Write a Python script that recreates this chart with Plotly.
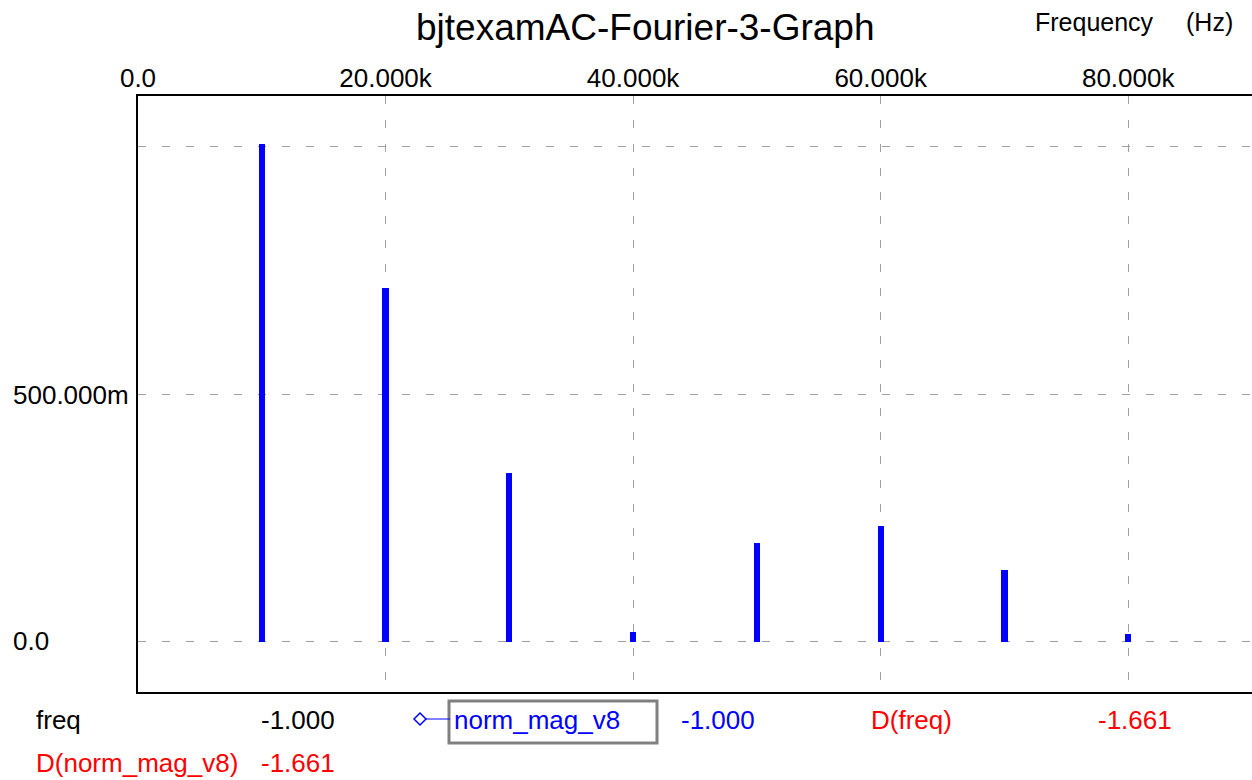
import plotly.graph_objects as go

# Fourier spectrum of node v8, normalised to the fundamental
freq_hz = [10000, 20000, 30000, 40000, 50000, 60000, 70000, 80000]
norm_mag_v8 = [1.005, 0.714, 0.341, 0.0197, 0.200, 0.234, 0.145, 0.016]

x_tick_vals = [0, 20000, 40000, 60000, 80000]
x_tick_text = ["0.0", "20.000k", "40.000k", "60.000k", "80.000k"]
y_tick_vals = [0.0, 0.5, 1.0]
y_tick_text = ["0.0", "500.000m"]

W, H = 1252, 780
L, R, T, B = 138, 0, 96, 88
PW, PH = W - L - R, H - T - B

FONT = "Liberation Sans, Arial, sans-serif"
GRID = "#a0a0a0"


def px(x):
    return (x - L) / PW


def py(y):
    return (H - B - y) / PH


fig = go.Figure()
fig.add_trace(go.Bar(
    x=freq_hz, y=norm_mag_v8, width=500,
    marker=dict(color="#0000ff", line=dict(width=0)),
    showlegend=False, hoverinfo="x+y",
))

fig.update_layout(
    width=W, height=H,
    margin=dict(l=L, r=R, t=T, b=B, pad=0),
    paper_bgcolor="white", plot_bgcolor="white",
    font=dict(family=FONT, size=26, color="black"),
    bargap=0,
    xaxis=dict(
        range=[0, 90000], side="top",
        tickvals=x_tick_vals, ticktext=x_tick_text,
        showgrid=True, gridcolor=GRID, griddash="8px,16px", gridwidth=1,
        showline=True, linecolor="black", linewidth=2, mirror=True,
        zeroline=False, ticks="", tickfont=dict(size=26),
        ticklabelstandoff=-3,
    ),
    yaxis=dict(
        range=[-0.1016, 1.1024],
        tickvals=y_tick_vals, showticklabels=False,
        showgrid=True, gridcolor=GRID, griddash="8px,16px", gridwidth=1,
        showline=True, linecolor="black", linewidth=2, mirror=False,
        zeroline=False, ticks="",
    ),
)

ann = []


def text(x, y, s, color="black", size=26, anchor="left"):
    ann.append(dict(x=px(x), y=py(y), xref="paper", yref="paper", text=s,
                    showarrow=False, xanchor=anchor, yanchor="middle",
                    font=dict(family=FONT, size=size, color=color)))


# y tick labels, left aligned
text(11, 641, y_tick_text[0], size=26)
text(11, 395, y_tick_text[1], size=26)

# title and axis name
text(645, 27, "bjtexamAC-Fourier-3-Graph", size=37, anchor="center")
text(1033, 22, "Frequency", size=25)
text(1184, 22, "(Hz)", size=25)

# cursor read-out rows
text(34, 720, "freq")
text(259, 720, "-1.000")
text(452, 720, "norm_mag_v8", color="#0000ff")
text(679, 720, "-1.000", color="#0000ff")
text(869, 720, "D(freq)", color="#ff0000")
text(1096, 720, "-1.661", color="#ff0000")
text(34, 763, "D(norm_mag_v8)", color="#ff0000")
text(259, 763, "-1.661", color="#ff0000")

fig.update_layout(annotations=ann)

shapes = [
    # selection box round the trace name
    dict(type="rect", xref="paper", yref="paper",
         x0=px(449), x1=px(657), y0=py(743), y1=py(701),
         line=dict(color="#808080", width=3), fillcolor="rgba(0,0,0,0)"),
    # legend marker line and diamond
    dict(type="line", xref="paper", yref="paper",
         x0=px(426), x1=px(450), y0=py(719), y1=py(719),
         line=dict(color="#0000ff", width=1)),
    dict(type="path", xref="paper", yref="paper",
         path=(f"M {px(414)} {py(719)} L {px(420)} {py(713)} "
               f"L {px(426)} {py(719)} L {px(420)} {py(725)} Z"),
         line=dict(color="#0000ff", width=1.5), fillcolor="white"),
]
fig.update_layout(shapes=shapes)

fig.write_html("out.html")
